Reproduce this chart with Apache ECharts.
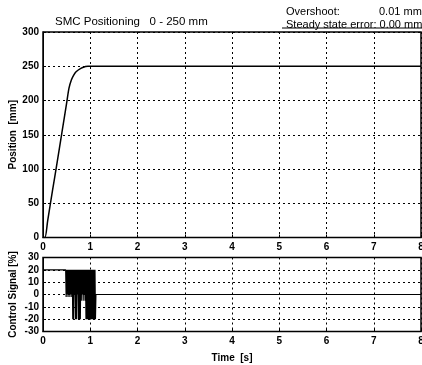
<!DOCTYPE html>
<html>
<head>
<meta charset="utf-8">
<script src="https://cdn.jsdelivr.net/npm/echarts@6/dist/echarts.min.js"></script>
<style>
html,body{margin:0;padding:0;background:#fff;}
#c{width:422px;height:365px;}
</style>
</head>
<body>
<div id="c"></div>
<script>
// Position response
var posT = [0, 0.04, 0.1, 0.2, 0.3, 0.4, 0.5, 0.55, 0.6, 0.65, 0.7, 0.8, 0.9, 0.95, 1.0, 8];
var posP = [0, 0, 25, 68, 110, 153, 196, 218, 230, 237, 242, 247, 249.5, 250, 250, 250];

// Control signal
var ctrlT = [0, 0.48, 0.49, 0.50, 0.51, 0.52, 0.53, 0.54, 0.55, 0.56, 0.57, 0.58, 0.59, 0.60, 0.61, 0.62, 0.63, 0.64, 0.65, 0.66, 0.67, 0.68, 0.69, 0.70, 0.71, 0.72, 0.73, 0.74, 0.75, 0.76, 0.77, 0.78, 0.79, 0.80, 0.81, 0.82, 0.83, 0.84, 0.85, 0.86, 0.87, 0.88, 0.89, 0.90, 0.91, 0.92, 0.93, 0.94, 0.95, 0.96, 0.97, 0.98, 0.99, 1.00, 1.01, 1.02, 1.03, 1.04, 1.05, 1.06, 1.07, 1.08, 1.09, 1.10, 1.11, 1.12, 8];
var ctrlU = [20, 20, -2, 20, 0, 20, -2, 20, 0, 20, -2, 20, 0, 20, -2, 20, -20, 20, -20, 20, 0, 20, -20, 20, -20, 20, 0, 20, -20, 20, -20, 20, -20, 20, -5, 20, 0, 20, -5, 20, 0, 20, -5, 20, -20, 20, -20, 20, -20, 20, -20, 20, -20, 20, -20, 20, -20, 20, -20, 20, -20, 20, -20, 20, -20, 0, 0];

var xTicks = [0, 1, 2, 3, 4, 5, 6, 7, 8];
var posTicks = [0, 50, 100, 150, 200, 250, 300];
var ctrlTicks = [-30, -20, -10, 0, 10, 20, 30];

var titleText = 'SMC Positioning   0 - 250 mm';
var overshootLabel = 'Overshoot:';
var overshootValue = '0.01 mm';
var sseText = 'Steady state error: 0.00 mm';
var xName = 'Time  [s]';
var posName = 'Position  [mm]';
var ctrlName = 'Control Signal [%]';

function zip(a, b) { return a.map(function (v, i) { return [v, b[i]]; }); }

var FONT = 'Liberation Sans';
var grid = { type: [2, 3], color: '#000', width: 1 };
var lbl = { color: '#000', fontFamily: FONT, fontWeight: 'bold', fontSize: 10 };

function xAxis(idx, name) {
  return {
    type: 'value', gridIndex: idx, min: xTicks[0], max: xTicks[xTicks.length - 1], interval: 1,
    axisLine: { show: true, onZero: false, lineStyle: { color: '#000', width: 1 } },
    axisTick: { show: true, inside: true, length: 3, lineStyle: { color: '#000' } },
    axisLabel: Object.assign({ margin: 5, showMaxLabel: true }, lbl),
    splitLine: { show: true, lineStyle: grid },
    name: name || '', nameLocation: 'middle', nameGap: 22, nameMoveOverlap: false,
    nameTextStyle: { color: '#000', fontFamily: FONT, fontWeight: 'bold', fontSize: 10 }
  };
}
function yAxis(idx, ticks, name, gap) {
  return {
    type: 'value', gridIndex: idx, min: ticks[0], max: ticks[ticks.length - 1], interval: ticks[1] - ticks[0],
    axisLine: { show: true, lineStyle: { color: '#000', width: 1 } },
    axisTick: { show: true, inside: true, length: 3, lineStyle: { color: '#000' } },
    axisLabel: Object.assign({ margin: 4 }, lbl),
    splitLine: { show: true, lineStyle: grid },
    name: name, nameLocation: 'middle', nameGap: gap, nameRotate: 90, nameMoveOverlap: false,
    nameTextStyle: { color: '#000', fontFamily: FONT, fontWeight: 'bold', fontSize: 10 }
  };
}

var tStyle = { fontFamily: FONT, fontSize: 11, fontWeight: 'normal', color: '#000' };
var chart = echarts.init(document.getElementById('c'), null, { renderer: 'canvas' });
chart.setOption({
  backgroundColor: '#fff',
  animation: false,
  title: [
    { text: titleText, left: 50, top: 11, textStyle: Object.assign({}, tStyle, { fontSize: 11.5 }) },
    { text: overshootLabel, left: 281, top: 1, textStyle: tStyle },
    { text: overshootValue, left: 374, top: 1, textStyle: tStyle },
    { text: sseText, left: 281, top: 14, textStyle: tStyle }
  ],
  graphic: [
    { type: 'line', shape: { x1: 282, y1: 28, x2: 422, y2: 28 }, style: { stroke: '#000', lineWidth: 1 } }
  ],
  grid: [
    { left: 43, top: 32, width: 378, height: 205.5, outerBoundsMode: 'none', containLabel: false, show: true, borderColor: '#000', borderWidth: 1.5, backgroundColor: 'transparent' },
    { left: 43, top: 257.5, width: 378, height: 74, outerBoundsMode: 'none', containLabel: false, show: true, borderColor: '#000', borderWidth: 1.5, backgroundColor: 'transparent' }
  ],
  xAxis: [xAxis(0), xAxis(1, xName)],
  yAxis: [yAxis(0, posTicks, posName, 25), yAxis(1, ctrlTicks, ctrlName, 25)],
  series: [
    { type: 'line', xAxisIndex: 0, yAxisIndex: 0, data: zip(posT, posP), symbol: 'none', smooth: 0.3,
      lineStyle: { color: '#000', width: 1.5 }, z: 5 },
    { type: 'line', xAxisIndex: 1, yAxisIndex: 1, data: zip(ctrlT, ctrlU), symbol: 'none',
      lineStyle: { color: '#000', width: 1.2 }, z: 5 }
  ]
});
</script>
</body>
</html>
